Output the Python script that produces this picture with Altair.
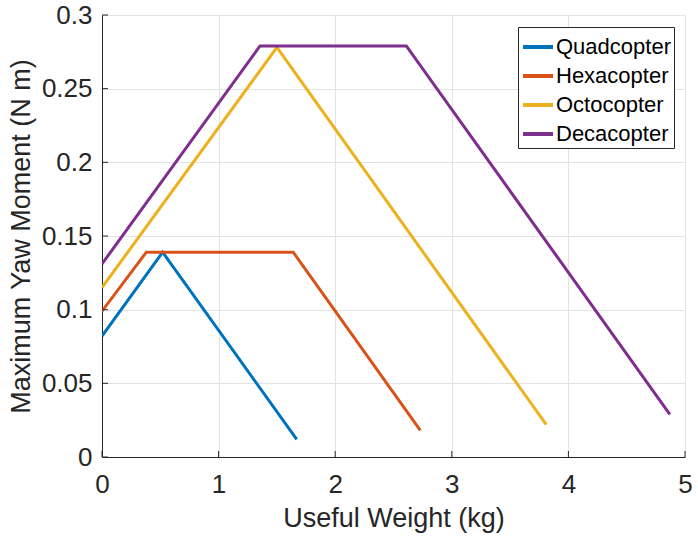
import altair as alt
import pandas as pd

# Breakpoints of each maximum-yaw-moment curve (useful weight in kg, moment in N m)
series_names = ["Quadcopter", "Hexacopter", "Octocopter", "Decacopter"]
quad_w = [0.0, 0.52, 1.67]
quad_m = [0.082, 0.139, 0.012]
hexa_w = [0.0, 0.38, 1.64, 2.73]
hexa_m = [0.099, 0.139, 0.139, 0.018]
octo_w = [0.0, 1.50, 3.81]
octo_m = [0.115, 0.278, 0.022]
deca_w = [0.0, 1.355, 2.61, 4.87]
deca_m = [0.131, 0.279, 0.279, 0.029]

colors = ["#0072BD", "#D95319", "#EDB120", "#7E2F8E"]
x_ticks = [0, 1, 2, 3, 4, 5]
y_ticks = [0, 0.05, 0.1, 0.15, 0.2, 0.25, 0.3]

rows = []
for name, ws, ms in zip(series_names, [quad_w, hexa_w, octo_w, deca_w],
                        [quad_m, hexa_m, octo_m, deca_m]):
    for i, (w, m) in enumerate(zip(ws, ms)):
        rows.append({"series": name, "order": i, "weight": w, "moment": m})
df = pd.DataFrame(rows)

W, H = 583, 442
FONT = "Liberation Sans"
TXT = "#262626"

x_scale = alt.Scale(domain=[0, 5], nice=False, zero=False)
y_scale = alt.Scale(domain=[0, 0.3], nice=False)

lines = alt.Chart(df).mark_line(strokeWidth=3, clip=True).encode(
    x=alt.X("weight:Q", scale=x_scale,
            axis=alt.Axis(values=x_ticks, title="Useful Weight (kg)", format="d",
                          grid=True, tickSize=0, labelPadding=14,
                          labelFlush=False, titlePadding=8)),
    y=alt.Y("moment:Q", scale=y_scale,
            axis=alt.Axis(values=y_ticks, title="Maximum Yaw Moment (N m)",
                          format="~g", grid=True, tickSize=0, labelPadding=10,
                          labelFlush=False, titlePadding=6)),
    color=alt.Color("series:N", sort=series_names,
                    scale=alt.Scale(domain=series_names, range=colors),
                    legend=alt.Legend(title=None, orient="none",
                                      legendX=416, legendY=12,
                                      symbolType="stroke", symbolSize=900,
                                      symbolStrokeWidth=4,
                                      labelFontSize=22, labelFont=FONT,
                                      labelColor="#000000", labelOffset=1,
                                      rowPadding=1, padding=3,
                                      strokeColor="#262626", fillColor="white",
                                      cornerRadius=0)),
    order="order:Q",
)

# Inward tick marks along the bottom and left axes
xt = pd.DataFrame({"t": x_ticks})
yt = pd.DataFrame({"t": y_ticks})
x_tick_marks = alt.Chart(xt).mark_rule(color=TXT, strokeWidth=1).encode(
    x=alt.X("t:Q", scale=x_scale), y=alt.value(H), y2=alt.value(H - 6))
y_tick_marks = alt.Chart(yt).mark_rule(color=TXT, strokeWidth=1).encode(
    y=alt.Y("t:Q", scale=y_scale), x=alt.value(0), x2=alt.value(6))

chart = alt.layer(lines, x_tick_marks, y_tick_marks).properties(
    width=W, height=H,
    background="white",
    autosize=alt.AutoSizeParams(type="none"),
    padding={"left": 102, "top": 15, "right": 13, "bottom": 82},
).configure_view(stroke=None).configure_axis(
    labelFont=FONT, titleFont=FONT, labelFontSize=26, titleFontSize=27,
    labelColor=TXT, titleColor=TXT, titleFontWeight="normal",
    domainColor=TXT, domainWidth=1, gridColor="#e3e3e3", gridWidth=1,
    labelAngle=0,
)

chart.save("out.html", embed_options={"renderer": "svg", "actions": False})
